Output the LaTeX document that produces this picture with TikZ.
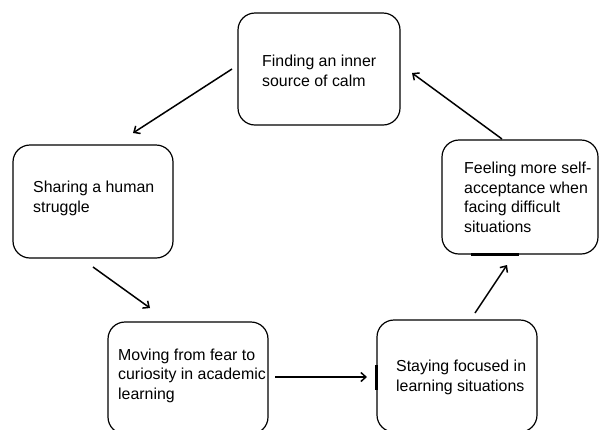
\documentclass[tikz,border=0pt]{standalone}
\usepackage{fontspec}
\setmainfont{Liberation Sans}
\usetikzlibrary{arrows.meta,calc}
\begin{document}
\begin{tikzpicture}[x=1pt,y=-1pt,
  box/.style={draw=black, line width=1.2pt, rounded corners=17pt, minimum width=#1, inner sep=0pt},
  txt/.style={anchor=west, align=left, inner sep=0pt, font=\fontsize{15.9}{19.5}\selectfont},
  arr/.style={line width=1.5pt, -{Straight Barb[length=5pt,width=9pt,line width=1.5pt]}},
  thickseg/.style={line width=2.6pt}]
\clip (0,0) rectangle (599,429);
\fill[white] (0,0) rectangle (599,429);
\node[box=162pt, minimum height=112pt] (b1) at (319,69) {};
\node[box=160pt, minimum height=113pt] (b2) at (93,201.5) {};
\node[box=156pt, minimum height=114pt] (b3) at (520,197) {};
\node[box=160pt, minimum height=112pt] (b4) at (188,378) {};
\node[box=160pt, minimum height=112pt] (b5) at (457,376) {};
\node[txt] (t1) at (262,71) {Finding an inner\\source of calm};
\node[txt] (t2) at (33,198.5) {Sharing a human\\struggle};
\node[txt] (t3) at (464,197.5) {Feeling more self-\\acceptance when\\facing difficult\\situations};
\node[txt] (t4) at (118,375.5) {Moving from fear to\\curiosity in academic\\learning};
\node[txt] (t5) at (396,377.5) {Staying focused in\\learning situations};
\coordinate (a1s) at (232,69);  \coordinate (a1e) at (133,133);
\coordinate (a2s) at (93,267);  \coordinate (a2e) at (150,308);
\coordinate (a3s) at (275,377); \coordinate (a3e) at (367,377);
\coordinate (a4s) at (475,313); \coordinate (a4e) at (507,265);
\coordinate (a5s) at (502,139); \coordinate (a5e) at (412,73);
\draw[arr] (a1s) -- (a1e);
\draw[arr] (a2s) -- (a2e);
\draw[arr] (a3s) -- (a3e);
\draw[arr] (a4s) -- (a4e);
\draw[arr] (a5s) -- (a5e);
\draw[thickseg] ($(b5.west)+(0,-11)$) -- ($(b5.west)+(0,14)$);
\draw[thickseg] ($(b3.south west)+(30,0)$) -- ($(b3.south west)+(78,0)$);
\end{tikzpicture}
\end{document}
